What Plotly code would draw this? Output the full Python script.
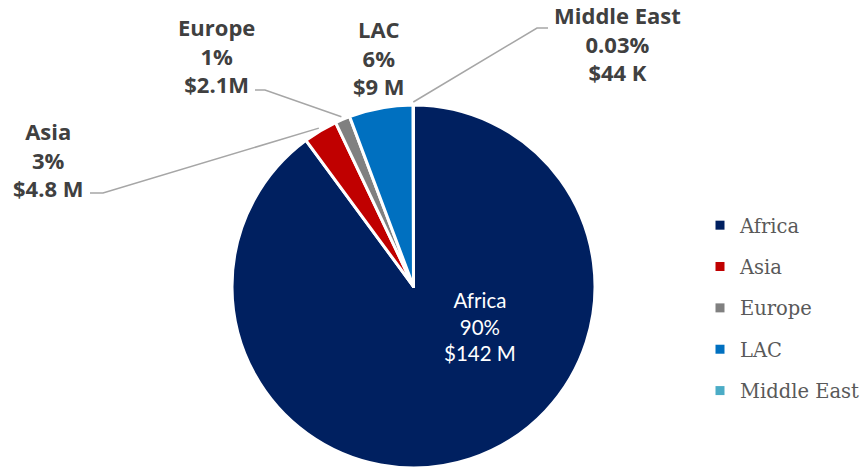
import math
import plotly.graph_objects as go

# ---- data ----
regions = ["Africa", "Asia", "Europe", "LAC", "Middle East"]
funding_musd = [142, 4.8, 2.1, 9, 0.044]
pct_labels = ["90%", "3%", "1%", "6%", "0.03%"]
amount_labels = ["$142 M", "$4.8 M", "$2.1M", "$9 M", "$44 K"]
colors = ["#002060", "#C00000", "#808080", "#0070C0", "#4BACC6"]

W, H = 866, 472

def px(x):
    return x / W

def py(y):
    return 1 - y / H

# pie geometry (pixels)
dom_x = (231.5, 595.5)
dom_y = (105, 468)
cx = (dom_x[0] + dom_x[1]) / 2
cy = (dom_y[0] + dom_y[1]) / 2
R = min(dom_x[1] - dom_x[0], dom_y[1] - dom_y[0]) / 2

fig = go.Figure()
fig.add_trace(go.Pie(
    labels=regions,
    values=funding_musd,
    sort=False,
    direction="clockwise",
    rotation=0,
    marker=dict(colors=colors, line=dict(color="white", width=3)),
    textinfo="none",
    hoverinfo="label+percent+value",
    showlegend=False,
    domain=dict(x=[px(dom_x[0]), px(dom_x[1])], y=[py(dom_y[1]), py(dom_y[0])]),
))

# legend via dummy traces (allows larger spacing between entries)
for i, (name, col) in enumerate(zip(regions, colors)):
    fig.add_trace(go.Scatter(
        x=[None], y=[None], mode="markers", name=name,
        marker=dict(symbol="square", size=9, color=col),
        legendgroup=f"g{i}", showlegend=True, hoverinfo="skip",
    ))

# mid angles of slices (clockwise from 12 o'clock)
total = sum(funding_musd)
mids = []
acc = 0
for v in funding_musd:
    mids.append((acc + v / 2) / total * 2 * math.pi)
    acc += v

def edge_point(i, extra=3):
    t = mids[i]
    return cx + (R + extra) * math.sin(t), cy - (R + extra) * math.cos(t)

label_font = dict(family="'Open Sans', Lato, sans-serif", size=22, color="#404040")

def lbl(i):
    return f"<b>{regions[i]}<br>{pct_labels[i]}<br>{amount_labels[i]}</b>"

# outside label placements (pixels): (center x, center y)
placements = {1: (48, 159), 2: (216, 55), 3: (379, 57), 4: (617, 44)}
for i, (x, y) in placements.items():
    fig.add_annotation(x=px(x), y=py(y), xref="paper", yref="paper",
                       text=lbl(i), showarrow=False, xanchor="center", yanchor="middle",
                       font=label_font)

# Africa label inside
fig.add_annotation(x=px(480), y=py(326), xref="paper", yref="paper",
                   text=f"{regions[0]}<br>{pct_labels[0]}<br>{amount_labels[0]}",
                   showarrow=False, xanchor="center", yanchor="middle",
                   font=dict(family="Lato, 'Open Sans', sans-serif", size=20.5, color="white"))

# leader lines: (elbow, end) in pixels
leaders = {1: [(103, 193), (90, 193)], 2: [(265, 90), (255, 90)], 4: [(537, 28), (548, 28)]}
for i, pts in leaders.items():
    sx, sy = edge_point(i)
    path = f"M {px(sx)},{py(sy)} " + " ".join(f"L {px(a)},{py(b)}" for a, b in pts)
    fig.add_shape(type="path", path=path, xref="paper", yref="paper",
                  line=dict(color="#A6A6A6", width=1.5))

fig.update_layout(
    width=W, height=H,
    margin=dict(l=0, r=0, t=0, b=0),
    paper_bgcolor="white", plot_bgcolor="rgba(0,0,0,0)",
    xaxis=dict(visible=False), yaxis=dict(visible=False),
    legend=dict(x=px(700), y=py(206), xanchor="left", yanchor="top",
                font=dict(family="'DejaVu Serif', serif", size=19.5, color="#595959"),
                tracegroupgap=13, bgcolor="rgba(0,0,0,0)"),
)

fig.write_html("out.html",
               config={"displayModeBar": False},
               post_script="document.body.style.margin='0';document.body.style.overflow='hidden';")
